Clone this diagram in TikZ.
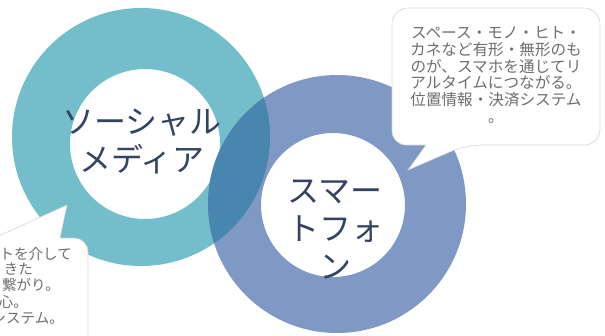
\documentclass[tikz,border=0pt]{standalone}
\usepackage{fontspec}
\newfontfamily\jp{Noto Sans CJK JP}
\definecolor{ringA}{HTML}{74BECC}
\definecolor{ringB}{HTML}{8098C4}
\definecolor{ringAB}{HTML}{4886B0}
\definecolor{titlec}{HTML}{34435F}
\definecolor{notec}{HTML}{6E6E6E}
\definecolor{bubblec}{HTML}{D4D4D4}
\tikzset{
  bubble/.style={fill=white, draw=bubblec, line width=0.6pt},
  titletext/.style={text=titlec, align=center, inner sep=0pt, font=\jp\fontsize{32}{38}\selectfont},
  notetext/.style={text=notec, align=center, inner sep=0pt, font=\jp\fontsize{15.6}{16.8}\selectfont},
  smallnote/.style={text=notec, inner sep=0pt, font=\jp\fontsize{14.5}{16}\selectfont},
}
\begin{document}
\begin{tikzpicture}[x=1pt,y=-1pt]
\useasboundingbox (0,0) rectangle (605,335);
\clip (0,0) rectangle (605,335);
% rings
\fill[ringA,even odd rule] (141,137) circle[radius=129pt] (145,144) circle[radius=75pt];
\fill[ringB,even odd rule] (337,204) circle[radius=129pt] (333,205) circle[radius=72pt];
\begin{scope}
  \clip (141,137) circle[radius=129pt];
  \fill[ringAB,even odd rule] (337,204) circle[radius=129pt] (333,205) circle[radius=72pt];
\end{scope}
% right callout
\draw[bubble] (392,80) [rounded corners=16pt]-- (392,8) -- (600,8) -- (600,145) -- (466,145) [sharp corners]-- (408,170) -- (426,145) [rounded corners=14pt]-- (392,145) -- cycle;
% left callout
\draw[bubble] (-60,238) -- (-6,238) -- (67,205) -- (60,238) [rounded corners=14pt]-- (88,238) -- (88,360) [sharp corners]-- (-60,360) -- cycle;
% titles
\node[titletext] (sm) at (142,141.5) {ソーシャル\\メディア};
\node[titletext] (sp) at (335,229) {スマー\\トフォ\\ン};
% right note
\node[notetext] (rn) at (496,75) {スペース・モノ・ヒト・\\カネなど有形・無形のも\\のが、スマホを通じてリ\\アルタイムにつながる。\\位置情報・決済システム\\。};
% left note (cut at the picture's left edge, as in the reference)
\node[smallnote, anchor=east] (l1) at (72,254) {トを介して};
\node[smallnote, anchor=east] (l2) at (33,269) {きた};
\node[smallnote, anchor=east] (l3) at (60,285) {繋がり。};
\node[smallnote, anchor=east] (l4) at (28,302) {安心。};
\node[smallnote, anchor=east] (l5) at (64,318) {システム。};
\end{tikzpicture}
\end{document}
